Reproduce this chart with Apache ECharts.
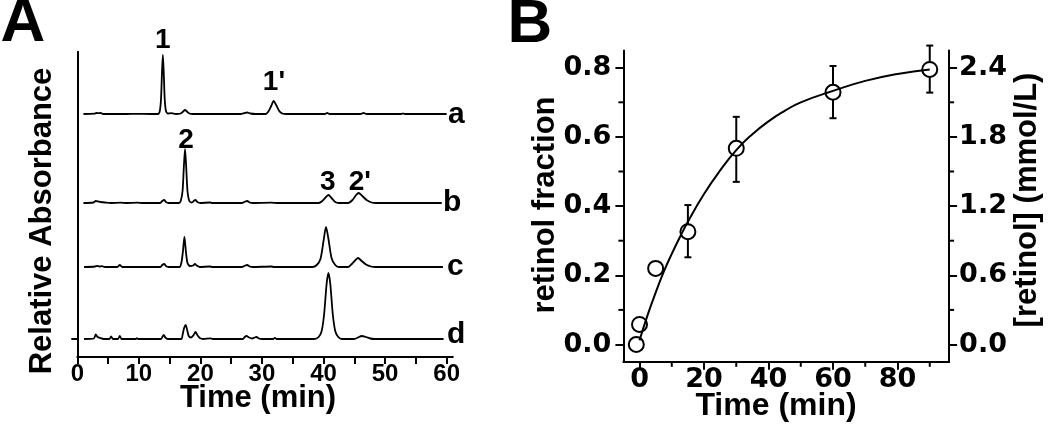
<!DOCTYPE html>
<html>
<head>
<meta charset="utf-8">
<script src="https://cdn.jsdelivr.net/npm/echarts@6/dist/echarts.min.js"></script>
<style>
html,body{margin:0;padding:0;background:#fff;}
#chart{width:1050px;height:435px;}
</style>
</head>
<body>
<div id="chart"></div>
<script>
// ---------- Panel A: chromatogram traces [time (min), relative absorbance] ----------
const traceA = [[1.0,0],[2.8,0.3],[3.1,1],[3.5,0.8],[3.8,1],[4.2,0],[8,0],[9.5,0.2],[12,0],[13.1,0],[13.4,3],[13.6,15],[13.75,40],[13.9,59],[14.05,40],[14.2,15],[14.4,3],[14.7,0.5],[15.3,0.8],[16,0],[16.8,0.5],[17.2,2.5],[17.5,4],[17.8,2.5],[18.2,0.5],[18.8,0],[26.5,0],[27.2,1],[27.6,1.5],[28.1,0.5],[29,0],[30.6,0],[31.1,3],[31.5,8],[31.9,13],[32.3,9],[32.8,3],[33.3,0.5],[34,0],[40.2,0],[40.6,1],[41.0,0],[46,0],[46.5,1],[47,0],[52.6,0],[52.9,0.5],[53.2,0],[60,0]];
const traceB = [[1.0,0],[2.6,0.5],[3.0,2],[3.4,1.5],[3.8,1],[4.5,0.5],[5.5,0],[7,0.3],[8,0],[9.8,0.3],[10.5,0],[13.4,0],[13.8,2],[14.1,3],[14.4,1],[14.8,0],[16.5,0],[16.8,2],[17.1,12],[17.3,35],[17.5,54],[17.7,35],[17.9,12],[18.2,2],[18.6,0.5],[19.0,2.5],[19.2,3],[19.5,1],[20,0],[21.5,0.5],[22,0],[26.8,0],[27.3,1.5],[27.6,2],[28,0.5],[28.5,0],[31.5,0.3],[32.5,0],[39.2,0],[39.8,2],[40.4,6],[40.8,8],[41.3,5],[41.9,1],[42.5,0],[44,0],[44.7,3],[45.3,8],[45.7,10],[46.3,7],[47,3],[47.8,0.5],[48.6,0],[59.2,0]];
const traceC = [[1.1,0],[2.9,0.5],[3.2,1.2],[3.6,0.5],[4,0.8],[4.5,0],[6.5,0],[6.9,2],[7.3,0],[13.5,0],[13.8,2],[14.1,3],[14.4,1],[14.8,0],[16.6,0],[16.9,4],[17.15,15],[17.4,30],[17.65,15],[17.9,4],[18.3,1],[18.8,1.5],[19.1,3],[19.4,1.5],[19.9,0],[21.5,0.5],[22,0],[26.8,0],[27.3,1.5],[27.6,2],[28,0.5],[28.5,0],[31.5,0.5],[32,0],[38.2,0],[38.9,2],[39.5,8],[40,26],[40.4,40],[40.8,28],[41.3,9],[41.9,2],[42.5,0],[44,0],[44.6,3],[45.2,7],[45.6,9],[46.2,6],[46.9,2.5],[47.7,0.5],[48.5,0],[59.4,0]];
const traceD = [[1.1,0],[2.7,0.5],[3.0,4.5],[3.3,2],[3.7,1],[4.3,0],[5.2,0],[5.5,2.5],[5.8,0],[6.6,0],[6.9,3],[7.2,0],[9.5,0],[9.7,0.8],[9.9,0],[13.6,0],[13.85,2.5],[14.05,4],[14.3,1.5],[14.7,0],[16.9,0],[17.1,4],[17.35,11],[17.6,14],[17.85,9],[18.1,3],[18.5,1.5],[18.9,4],[19.2,7],[19.5,4],[19.9,1],[20.5,0],[21.6,0.7],[22,0],[26.9,0],[27.2,2],[27.5,3],[27.9,1.5],[28.4,0.5],[28.8,1.5],[29.1,2],[29.5,0.5],[30,0],[31.8,0],[32.1,1.2],[32.4,0],[38.5,0],[39.2,2],[39.7,8],[40.1,25],[40.5,55],[40.8,66],[41.1,55],[41.5,25],[41.9,8],[42.4,2],[43,0],[45,0],[45.6,1.5],[46.2,3],[46.9,2],[47.6,0.5],[48.3,0],[59.5,0]];
const traceNames = ['a','b','c','d'];
const traceOffsets = [225, 136, 72, 0];      // vertical stacking offsets of the traces
const peakLabels = [[13.9,299,'1'],[31.95,257,"1'"],[17.66,199,'2'],[40.7,157,'3'],[45.9,157,"2'"]];
const ticksA = [0,10,20,30,40,50,60];
const minorTicksA = [0,5,10,15,20,25,30,35,40,45,50,55,60];

// ---------- Panel B: retinol fraction vs time ----------
const timeB = [-1, 0, 5, 15, 30, 60, 90];
const fraction = [0, 0.058, 0.220, 0.326, 0.567, 0.729, 0.795];
const errLow  = [null, null, null, 0.252, 0.470, 0.654, 0.728];
const errHigh = [null, null, null, 0.403, 0.658, 0.805, 0.864];
const curveT = [0, 2.5, 5, 7.5, 10, 12.5, 15, 20, 25, 30, 35, 40, 45, 50, 60, 70, 80, 90];
const curveV = [0.012, 0.085, 0.150, 0.210, 0.262, 0.310, 0.355, 0.435, 0.503, 0.562, 0.608, 0.645, 0.675, 0.700, 0.733, 0.762, 0.782, 0.795];
const ticksBx = [0,20,40,60,80];
const minorBx = [10,30,50,70,90];
const ticksBy = [0,0.2,0.4,0.6,0.8];
const minorBy = [0.1,0.3,0.5,0.7];
const ticksBr = [0,0.6,1.2,1.8,2.4];
const minorBr = [0.3,0.9,1.5,2.1];

const FA = 'Liberation Sans';
const FB = 'DejaVu Sans';
const black = '#000';

const chart = echarts.init(document.getElementById('chart'), null, {renderer:'canvas'});

const axisLineS = {show:true, onZero:false, lineStyle:{color:black, width:2}};
const tickStyle = {stroke:black, lineWidth:2};

const series = [];
[traceA, traceB, traceC, traceD].forEach((tr, i) => {
  series.push({
    type:'line', name: traceNames[i], xAxisIndex:0, yAxisIndex:0,
    data: tr.map(p => [p[0], p[1] + traceOffsets[i]]),
    showSymbol:false, smooth:0.25, silent:true, animation:false,
    lineStyle:{color:black, width:1.8}
  });
});
series.push({
  type:'scatter', xAxisIndex:0, yAxisIndex:0, clip:false, silent:true, animation:false,
  symbolSize:0, data: peakLabels, itemStyle:{color:black, opacity:1},
  label:{show:true, position:'inside', formatter: p => p.value[2], color:black, opacity:1,
         textBorderWidth:0, textBorderColor:'transparent',
         fontFamily:FA, fontWeight:'bold', fontSize:28}
});
series.push({
  type:'line', xAxisIndex:1, yAxisIndex:1, silent:true, animation:false,
  data: curveT.map((t,i)=>[t, curveV[i]]), showSymbol:false, smooth:0.5,
  lineStyle:{color:black, width:2}
});
series.push({
  type:'custom', xAxisIndex:1, yAxisIndex:1, silent:true, animation:false,
  data: timeB.map((t,i)=>[t, fraction[i], errLow[i], errHigh[i]]).filter(d=>d[2]!==null),
  renderItem: (params, api) => {
    const c = api.coord([api.value(0), api.value(1)]);
    const lo = api.coord([api.value(0), api.value(2)]);
    const hi = api.coord([api.value(0), api.value(3)]);
    const r = 7.5, cw = 3.5;
    return {type:'group', children:[
      {type:'line', shape:{x1:c[0], y1:hi[1], x2:c[0], y2:c[1]-r}, style:tickStyle},
      {type:'line', shape:{x1:c[0], y1:c[1]+r, x2:c[0], y2:lo[1]}, style:tickStyle},
      {type:'line', shape:{x1:c[0]-cw, y1:hi[1], x2:c[0]+cw, y2:hi[1]}, style:tickStyle},
      {type:'line', shape:{x1:c[0]-cw, y1:lo[1], x2:c[0]+cw, y2:lo[1]}, style:tickStyle}
    ]};
  }
});
series.push({
  type:'scatter', xAxisIndex:1, yAxisIndex:1, silent:true, animation:false, z:5,
  data: timeB.map((t,i)=>[t, fraction[i]]), symbol:'circle', symbolSize:15,
  itemStyle:{color:'rgba(0,0,0,0)', borderColor:black, borderWidth:2, opacity:1}
});
// minor ticks of panel B, placed through the axes' own scales
series.push({
  type:'custom', xAxisIndex:1, yAxisIndex:1, silent:true, animation:false, clip:false,
  data: minorBx.map(v => [v, 0]),
  renderItem: (params, api) => {
    const cs = params.coordSys, p = api.coord([api.value(0), 0]), yb = cs.y + cs.height;
    return {type:'line', shape:{x1:p[0], y1:yb, x2:p[0], y2:yb + 5}, style:tickStyle};
  }
});
series.push({
  type:'custom', xAxisIndex:1, yAxisIndex:1, silent:true, animation:false, clip:false,
  data: minorBy.map(v => [0, v]),
  renderItem: (params, api) => {
    const cs = params.coordSys, p = api.coord([0, api.value(1)]);
    return {type:'line', shape:{x1:cs.x - 5, y1:p[1], x2:cs.x, y2:p[1]}, style:tickStyle};
  }
});
series.push({
  type:'custom', xAxisIndex:1, yAxisIndex:2, silent:true, animation:false, clip:false,
  data: minorBr.map(v => [0, v]),
  renderItem: (params, api) => {
    const cs = params.coordSys, p = api.coord([0, api.value(1)]), xr = cs.x + cs.width;
    return {type:'line', shape:{x1:xr, y1:p[1], x2:xr + 5, y2:p[1]}, style:tickStyle};
  }
});

function txt(x, y, text, size, opts) {
  opts = opts || {};
  return {type:'text', x:x, y:y, rotation:opts.rot || 0, silent:true,
    style:{text:text, font:'bold ' + size + 'px ' + (opts.family || FA), fill:black,
      align:opts.align || 'center', verticalAlign:'middle',
      textAlign:opts.align || 'center', textVerticalAlign:'middle'}};
}

const option = {
  animation:false,
  backgroundColor:'#fff',
  grid:[
    {left:77.3, top:51.7, width:375.5, height:305.3},
    {left:623.4, top:50.4, width:325.7, height:311.4}
  ],
  xAxis:[
    {type:'value', gridIndex:0, position:'bottom', min:0, max:61, axisLine:axisLineS, splitLine:{show:false},
     axisTick:{show:true, customValues:minorTicksA, length:7, lineStyle:{color:black,width:2}},
     axisLabel:{customValues:ticksA, margin:5, color:black, fontFamily:FA, fontWeight:'bold', fontSize:24}},
    {type:'value', gridIndex:1, position:'bottom', min:-5, max:96, axisLine:axisLineS, splitLine:{show:false},
     axisTick:{show:true, customValues:ticksBx, length:8, lineStyle:{color:black,width:2}},
     axisLabel:{customValues:ticksBx, margin:5, color:black, fontFamily:FB, fontWeight:'bold', fontSize:27}}
  ],
  yAxis:[
    {type:'value', gridIndex:0, position:'left', min:-18, max:287.3, axisLine:axisLineS, splitLine:{show:false},
     axisTick:{show:true, customValues:[0], length:6, lineStyle:{color:black,width:2}},
     axisLabel:{show:false}},
    {type:'value', gridIndex:1, position:'left', min:-0.05, max:0.85, axisLine:axisLineS, splitLine:{show:false},
     axisTick:{show:true, customValues:ticksBy, length:8, lineStyle:{color:black,width:2}},
     axisLabel:{customValues:ticksBy, margin:12, formatter:v=>v.toFixed(1), color:black, fontFamily:FB, fontWeight:'bold', fontSize:27}},
    {type:'value', gridIndex:1, position:'right', min:-0.15, max:2.55, axisLine:axisLineS, splitLine:{show:false},
     axisTick:{show:true, customValues:ticksBr, length:8, lineStyle:{color:black,width:2}},
     axisLabel:{customValues:ticksBr, margin:10, formatter:v=>v.toFixed(1), color:black, fontFamily:FB, fontWeight:'bold', fontSize:27}}
  ],
  graphic:[
    txt(23, 24, 'A', 62),
    txt(530, 25, 'B', 62),
    txt(42, 221, 'Relative Absorbance', 31, {rot:Math.PI/2}),
    txt(258, 398, 'Time (min)', 31),
    txt(545, 205, 'retinol fraction', 31, {rot:Math.PI/2}),
    txt(1027, 200, '[retinol] (mmol/L)', 31, {rot:Math.PI/2}),
    txt(776, 406, 'Time (min)', 32),
    txt(448, 114.5, 'a', 30, {align:'left'}),
    txt(443, 202.5, 'b', 30, {align:'left'}),
    txt(447, 266.5, 'c', 30, {align:'left'}),
    txt(447, 334.5, 'd', 30, {align:'left'})
  ],
  series: series
};
chart.setOption(option);
</script>
</body>
</html>
